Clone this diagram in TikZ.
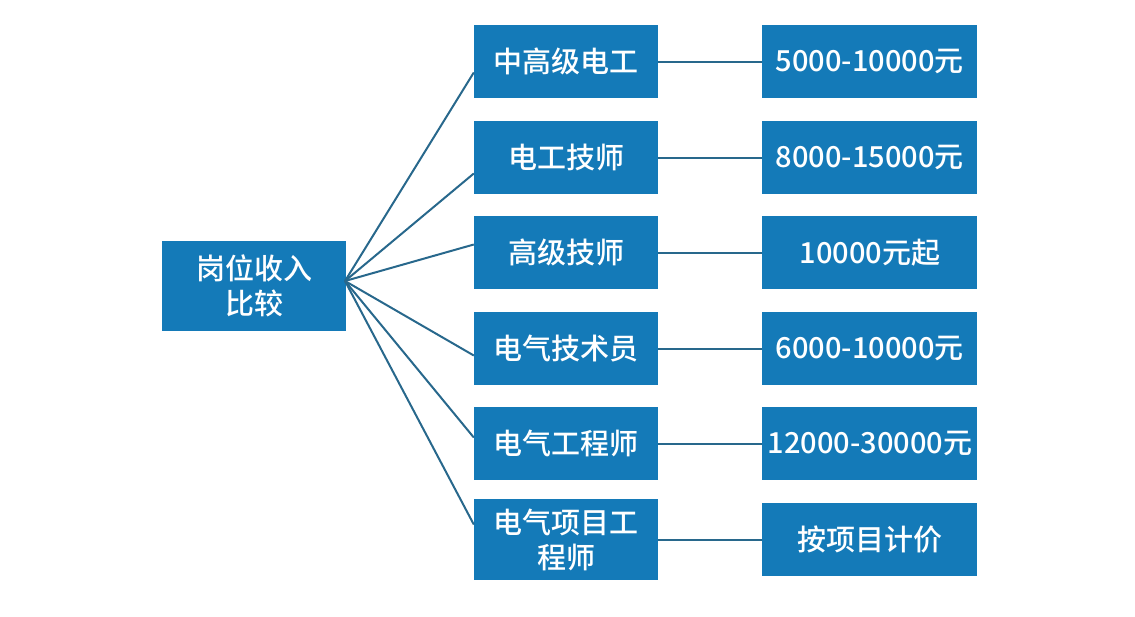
\documentclass[tikz,border=0pt]{standalone}
\usepackage{fontspec}
\setmainfont{Noto Sans CJK SC}[UprightFont=* Medium]
\usepackage{tikz}
\usetikzlibrary{positioning}

\definecolor{boxblue}{RGB}{20,122,184}
\definecolor{linkblue}{RGB}{40,104,140}

\begin{document}
\begin{tikzpicture}[x=1pt,y=-1pt,node distance=104pt]
        \tikzstyle{job}=[rectangle,fill=boxblue,text=white,align=center,inner sep=0pt,minimum width=184pt,minimum height=73pt,font=\fontsize{29}{35}\selectfont]
        \tikzstyle{pay}=[job,minimum width=215pt]
        \tikzstyle{link}=[draw=linkblue,line width=2pt]
        \useasboundingbox (0,0) rectangle (1135,616);
        % root
        \node[job,minimum width=184pt,minimum height=90pt](root) at (254,286){岗位收入\\比较};
        \coordinate (hub) at (345,281);
        % middle column
        \node[job](m1) at (566,61.5){中高级电工};
        \node[job](m2) at (566,157.5){电工技师};
        \node[job](m3) at (566,252.5){高级技师};
        \node[job](m4) at (566,348.5){电气技术员};
        \node[job](m5) at (566,443.5){电气工程师};
        \node[job,minimum height=81pt](m6) at (566,539.5){电气项目工\\程师};
        % right column
        \node[pay,right=of m1](p1){5000-10000元};
        \node[pay,right=of m2](p2){8000-15000元};
        \node[pay,right=of m3](p3){10000元起};
        \node[pay,right=of m4](p4){6000-10000元};
        \node[pay,right=of m5](p5){12000-30000元};
        \node[pay,right=of m6,minimum height=73pt](p6){按项目计价};
        % fan
        \draw[link] (hub) -- ([yshift=-11pt]m1.west);
        \draw[link] (hub) -- ([yshift=-16pt]m2.west);
        \draw[link] (hub) -- ([yshift=8pt]m3.west);
        \draw[link] (hub) -- ([yshift=-7pt]m4.west);
        \draw[link] (hub) -- ([yshift=6pt]m5.west);
        \draw[link] (hub) -- ([yshift=15pt]m6.west);
        % pay links
        \foreach \i in {1,...,6}
            \draw[link] (m\i.east) -- (p\i.west);
\end{tikzpicture}
\end{document}
